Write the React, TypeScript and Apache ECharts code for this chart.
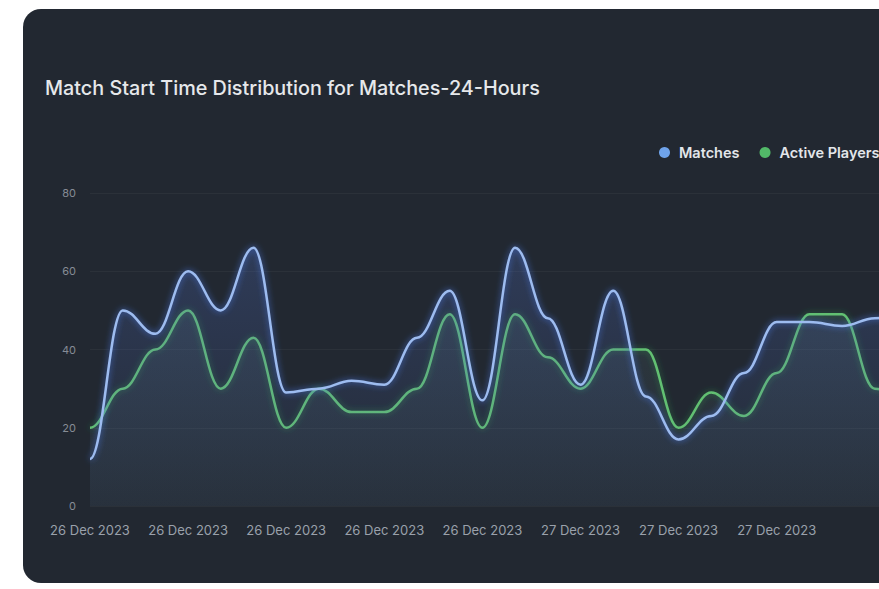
import React, { useEffect, useRef } from "react";
import * as echarts from "echarts";

const categories: string[] = [
  "26 Dec 2023 11:00", "26 Dec 2023 12:00", "26 Dec 2023 13:00", "26 Dec 2023 14:00",
  "26 Dec 2023 15:00", "26 Dec 2023 16:00", "26 Dec 2023 17:00", "26 Dec 2023 18:00",
  "26 Dec 2023 19:00", "26 Dec 2023 20:00", "26 Dec 2023 21:00", "26 Dec 2023 22:00",
  "26 Dec 2023 23:00", "27 Dec 2023 00:00", "27 Dec 2023 01:00", "27 Dec 2023 02:00",
  "27 Dec 2023 03:00", "27 Dec 2023 04:00", "27 Dec 2023 05:00", "27 Dec 2023 06:00",
  "27 Dec 2023 07:00", "27 Dec 2023 08:00", "27 Dec 2023 09:00", "27 Dec 2023 10:00",
  "27 Dec 2023 11:00", "27 Dec 2023 12:00",
];

const matches: number[] = [12, 50, 44, 60, 50, 66, 29, 30, 32, 31, 43, 55, 27, 66, 48, 31, 55, 28, 17, 23, 34, 47, 47, 46, 48, 49];
const activePlayers: number[] = [20, 30, 40, 50, 30, 43, 20, 30, 24, 24, 30, 49, 20, 49, 38, 30, 40, 40, 20, 29, 23, 34, 49, 49, 30, 28];

const yTicks = { min: 0, max: 80, interval: 20 };
const titleText = "Match Start Time Distribution for Matches-24-Hours";

const CARD_L = 23;
const CARD_T = 9;
const CARD_W = 940;
const CARD_H = 574;
const TENSION = 0.4;

function curvePath(pts: number[][]): string {
  let d = `M${pts[0][0]},${pts[0][1]}`;
  for (let i = 1; i < pts.length; i++) {
    const [px, py] = pts[i - 1];
    const [x, y] = pts[i];
    const dx = (x - px) * TENSION;
    d += ` C${px + dx},${py} ${x - dx},${y} ${x},${y}`;
  }
  return d;
}

function makeSeries(
  name: string,
  values: number[],
  stroke: string,
  glow: string,
  areaTop: string,
  areaBottom: string,
  z: number
) {
  return {
    name,
    type: "custom",
    z,
    itemStyle: { color: stroke },
    encode: { x: 0, y: 1 },
    data: values.map((v, i) => [i, v]),
    renderItem: (params: any, api: any) => {
      if (params.dataIndex !== 0) return null;
      const pts = values.map((v, i) => api.coord([i, v]));
      const base = api.coord([0, 0])[1];
      const lineD = curvePath(pts);
      const areaD =
        lineD + ` L${pts[pts.length - 1][0]},${base} L${pts[0][0]},${base} Z`;
      return {
        type: "group",
        children: [
          {
            type: "path",
            shape: { pathData: areaD },
            style: {
              fill: new echarts.graphic.LinearGradient(0, 0, 0, 1, [
                { offset: 0, color: areaTop },
                { offset: 1, color: areaBottom },
              ]),
            },
          },
          {
            type: "path",
            shape: { pathData: lineD },
            style: {
              fill: "none",
              stroke,
              lineWidth: 2.5,
              shadowBlur: 6,
              shadowColor: glow,
            },
          },
        ],
      };
    },
  };
}

export default function App() {
  const ref = useRef<HTMLDivElement>(null);

  useEffect(() => {
    if (!ref.current) return;
    const chart = echarts.init(ref.current, undefined, { renderer: "svg" });
    const fontFamily = "Inter, 'Noto Sans', sans-serif";
    chart.setOption({
      animation: false,
      backgroundColor: "transparent",
      title: {
        text: titleText,
        left: 45 - CARD_L - 5,
        top: 64,
        textStyle: { color: "#e6e8eb", fontSize: 19.8, fontWeight: 500, fontFamily },
      },
      legend: {
        left: 659 - CARD_L - 5,
        top: 131,
        icon: "circle",
        itemWidth: 11,
        itemHeight: 11,
        itemGap: 20,
        textStyle: {
          color: "#e3e6ea",
          fontSize: 14.5,
          fontWeight: 600,
          fontFamily,
          padding: [0, 0, 0, 4],
        },
        data: [
          { name: "Matches", itemStyle: { color: "#6fa3ea" } },
          { name: "Active Players", itemStyle: { color: "#52b968" } },
        ],
      },
      grid: {
        left: 90 - CARD_L,
        right: CARD_W - (907.5 - CARD_L),
        top: 193 - CARD_T,
        bottom: CARD_H - (506 - CARD_T),
      },
      xAxis: {
        type: "category",
        data: categories,
        boundaryGap: false,
        axisLine: { show: false },
        axisTick: { show: false },
        axisLabel: {
          interval: (index: number) => index % 3 === 0 && index <= 21,
          formatter: (v: string) => v.slice(0, 11),
          color: "#9aa1ab",
          fontSize: 13,
          margin: 17,
          fontFamily,
        },
      },
      yAxis: {
        type: "value",
        min: yTicks.min,
        max: yTicks.max,
        interval: yTicks.interval,
        axisLine: { show: false },
        axisTick: { show: false },
        axisLabel: { color: "#868c95", fontSize: 11, margin: 14, fontFamily },
        splitLine: { lineStyle: { color: "rgba(255,255,255,0.045)", width: 1 } },
      },
      series: [
        makeSeries(
          "Active Players",
          activePlayers,
          "#62c072",
          "rgba(50,160,80,0.6)",
          "rgba(110,150,150,0.14)",
          "rgba(110,150,150,0.06)",
          2
        ),
        makeSeries(
          "Matches",
          matches,
          "#9dbcf0",
          "rgba(70,120,230,0.85)",
          "rgba(80,110,190,0.28)",
          "rgba(80,110,190,0.04)",
          3
        ),
      ],
    });
    return () => chart.dispose();
  }, []);

  return (
    <div
      style={{
        position: "fixed",
        left: 0,
        top: 0,
        width: 879,
        height: 589,
        overflow: "hidden",
        background: "#ffffff",
      }}
    >
      <div
        style={{
          position: "absolute",
          left: CARD_L,
          top: CARD_T,
          width: CARD_W,
          height: CARD_H,
          borderRadius: 18,
          background: "#222831",
          overflow: "hidden",
        }}
      >
        <div ref={ref} style={{ width: CARD_W, height: CARD_H }} />
      </div>
    </div>
  );
}
